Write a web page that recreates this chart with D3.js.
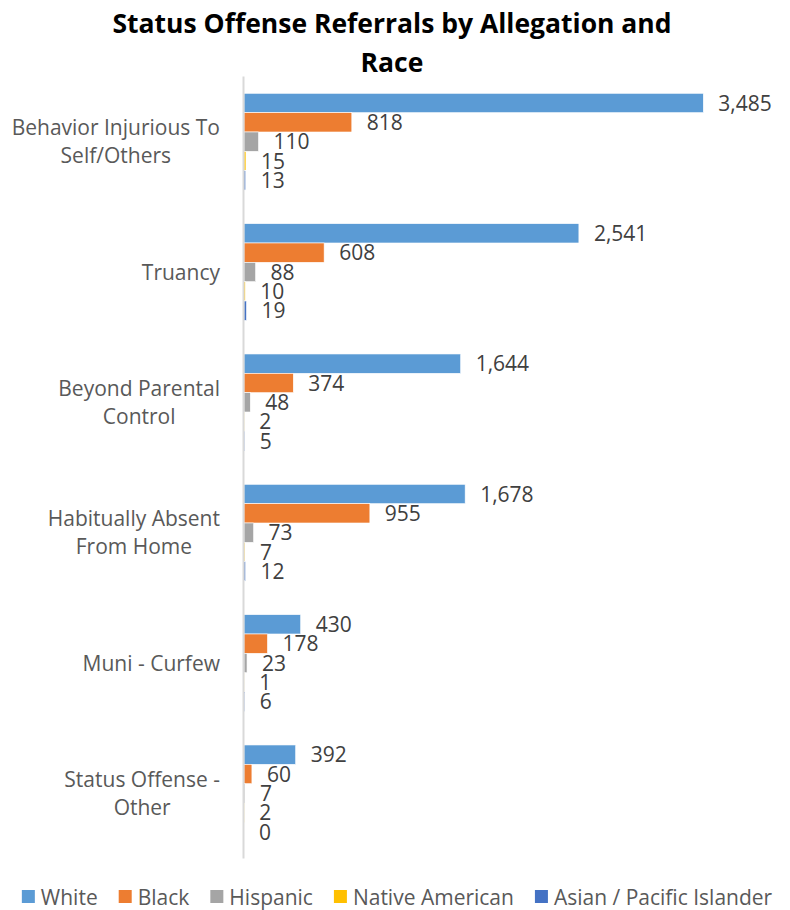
<!DOCTYPE html>
<html>
<head>
<meta charset="utf-8">
<script src="https://cdn.jsdelivr.net/npm/d3@7"></script>
<style>
  body { margin: 0; background: #fff; }
  svg text { font-family: "Open Sans", sans-serif; }
</style>
</head>
<body>
<div id="chart"></div>
<script>
var width = 790;
var height = 910;

var categories = [
  'Behavior Injurious To\nSelf/Others',
  'Truancy',
  'Beyond Parental\nControl',
  'Habitually Absent\nFrom Home',
  'Muni - Curfew',
  'Status Offense -\nOther'
];
var seriesNames = ['White', 'Black', 'Hispanic', 'Native American', 'Asian / Pacific Islander'];
var seriesColors = ['#5b9bd5', '#ed7d31', '#a5a5a5', '#ffc000', '#4472c4'];

var white    = [3485, 2541, 1644, 1678, 430, 392];
var black    = [818, 608, 374, 955, 178, 60];
var hispanic = [110, 88, 48, 73, 23, 7];
var native   = [15, 10, 2, 7, 1, 2];
var asian    = [13, 19, 5, 12, 6, 0];

var series = [white, black, hispanic, native, asian];

var margin = {top: 76.5, left: 244, bottom: 51.5};

var svg = d3.select('#chart').append('svg')
            .attr('width', width).attr('height', height);

// title
var title = svg.append('text')
    .attr('text-anchor', 'middle')
    .attr('font-weight', 'bold')
    .attr('font-size', '26.5px')
    .attr('fill', '#000');
title.append('tspan').attr('x', 392).attr('y', 33).text('Status Offense Referrals by Allegation and');
title.append('tspan').attr('x', 392).attr('y', 72).text('Race');

var x = d3.scaleLinear().domain([0, 3485]).range([margin.left, 703.3]);

var y0 = d3.scaleBand()
    .domain(categories)
    .range([margin.top, height - margin.bottom])
    .paddingInner(0.258).paddingOuter(0.129);

var y1 = d3.scaleBand()
    .domain(d3.range(seriesNames.length))
    .range([0, y0.bandwidth()]);

var groups = svg.selectAll('g.cat').data(categories)
  .enter().append('g')
    .attr('class', 'cat')
    .attr('transform', function(d){ return 'translate(0,' + y0(d) + ')'; });

groups.selectAll('rect')
    .data(function(d, i){
      return series.map(function(s, k){ return {k: k, v: s[i]}; });
    })
  .enter().append('rect')
    .attr('x', x(0))
    .attr('y', function(d){ return y1(d.k); })
    .attr('width', function(d){ return x(d.v) - x(0); })
    .attr('height', y1.bandwidth())
    .attr('fill', function(d){ return seriesColors[d.k]; })
    .attr('stroke', '#fff')
    .attr('stroke-width', 0.6);

groups.selectAll('text.val')
    .data(function(d, i){
      return series.map(function(s, k){ return {k: k, v: s[i]}; });
    })
  .enter().append('text')
    .attr('class', 'val')
    .attr('x', function(d){ return x(d.v) + 15; })
    .attr('y', function(d){ return y1(d.k) + y1.bandwidth() / 2; })
    .attr('dy', '0.36em')
    .attr('font-size', '21px')
    .attr('fill', '#404040')
    .text(function(d){ return d3.format(',')(d.v); });

// axis line
svg.append('line')
    .attr('x1', 243.5).attr('x2', 243.5)
    .attr('y1', margin.top).attr('y2', height - margin.bottom)
    .attr('stroke', '#d9d9d9').attr('stroke-width', 2);

// category labels, lines centred on each other, block right aligned
groups.each(function(d){
  var g = d3.select(this);
  var lines = d.split('\n');
  var t = g.append('text')
      .attr('font-size', '21px')
      .attr('fill', '#595959')
      .attr('text-anchor', 'middle');
  var lh = 28;
  var start = y0.bandwidth() / 2 - (lines.length - 1) * lh / 2;
  var spans = lines.map(function(l, i){
    return t.append('tspan').attr('y', start + i * lh).attr('dy', '0.36em').text(l);
  });
  var maxW = d3.max(spans, function(s){ return s.node().getComputedTextLength(); });
  spans.forEach(function(s){ s.attr('x', 220 - maxW / 2); });
});

// legend
var legend = svg.append('g');
var lx = 0;
seriesNames.forEach(function(n, i){
  var item = legend.append('g').attr('transform', 'translate(' + lx + ',0)');
  item.append('rect').attr('x', 0).attr('y', -7).attr('width', 13).attr('height', 13)
      .attr('fill', seriesColors[i]);
  var t = item.append('text').attr('x', 19).attr('y', 0).attr('dy', '0.36em')
      .attr('font-size', '21px').attr('fill', '#595959').text(n);
  lx += 19 + t.node().getComputedTextLength() + 21;
});
lx -= 21;
legend.attr('transform', 'translate(' + (397 - lx / 2) + ',897)');
</script>
</body>
</html>
